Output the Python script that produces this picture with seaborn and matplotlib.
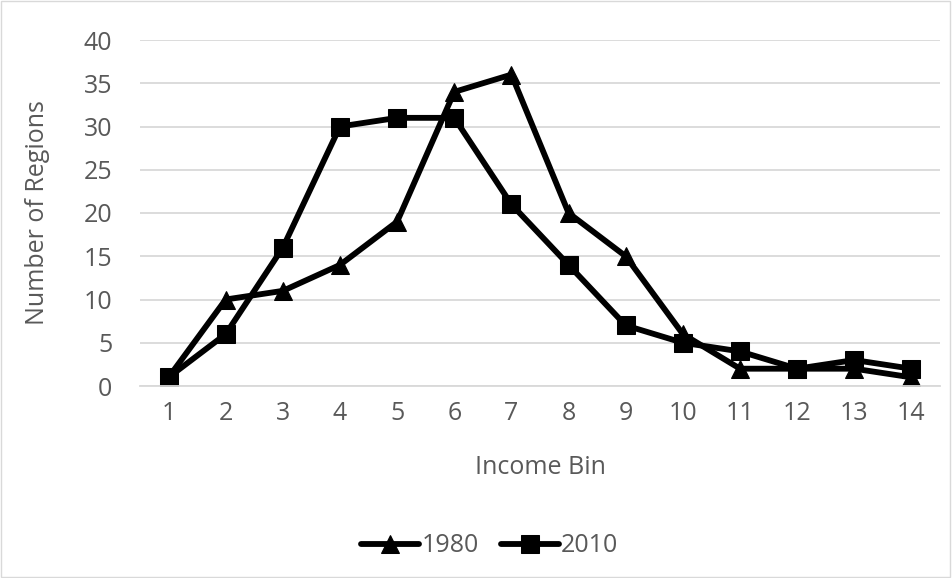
import matplotlib
matplotlib.use("Agg")
import matplotlib.pyplot as plt
import seaborn as sns
import pandas as pd

bins = list(range(1, 15))
vals_1980 = [1, 10, 11, 14, 19, 34, 36, 20, 15, 6, 2, 2, 2, 1]
vals_2010 = [1, 6, 16, 30, 31, 31, 21, 14, 7, 5, 4, 2, 3, 2]
series_names = ["1980", "2010"]
y_ticks = [0, 5, 10, 15, 20, 25, 30, 35, 40]

df = pd.DataFrame({
    "bin": bins * 2,
    "value": vals_1980 + vals_2010,
    "series": [series_names[0]] * len(bins) + [series_names[1]] * len(bins),
})

sns.set_theme(style="white")
plt.rcParams["font.family"] = ["Open Sans", "DejaVu Sans"]

txt = "#595959"
fs = 18
fig = plt.figure(figsize=(9.52, 5.78), dpi=100)
ax = fig.add_axes([140/952, 1-386/578, 800/952, 346/578])

sns.lineplot(data=df, x="bin", y="value", style="series", hue="series",
             palette={"1980": "black", "2010": "black"},
             markers={"1980": "^", "2010": "s"}, dashes=False,
             linewidth=4.2, markersize=13, markeredgecolor="black", ax=ax)

ax.set_xlim(0.5, 14.5)
ax.set_ylim(0, 40)
ax.set_yticks(y_ticks)
ax.set_xticks(bins)
ax.grid(axis="y", color="#d9d9d9", linewidth=1.3)
ax.set_axisbelow(True)
for s in ["top", "right", "left"]:
    ax.spines[s].set_visible(False)
ax.spines["bottom"].set_color("#d9d9d9")
ax.spines["bottom"].set_linewidth(1.3)
ax.tick_params(axis="both", colors=txt, labelsize=fs, length=0)
ax.tick_params(axis="y", pad=20)
ax.tick_params(axis="x", pad=11)
ax.set_xlabel("Income Bin", color=txt, fontsize=fs, labelpad=21)
ax.set_ylabel("Number of Regions", color=txt, fontsize=fs, labelpad=24)

handles, labels = ax.get_legend_handles_labels()
ax.get_legend().remove()
fig.legend(handles, labels, loc="center", bbox_to_anchor=(0.5 + 14/952, 1-546/578),
           ncol=2, frameon=False, fontsize=fs, labelcolor=txt,
           handlelength=2.3, handletextpad=0.1, columnspacing=0.9)

border = plt.Rectangle((0.001, 0.001), 0.997, 0.997, transform=fig.transFigure,
                       fill=False, edgecolor="#d9d9d9", linewidth=1)
fig.patches.append(border)

fig.savefig("out.png", dpi=100, facecolor="white")
